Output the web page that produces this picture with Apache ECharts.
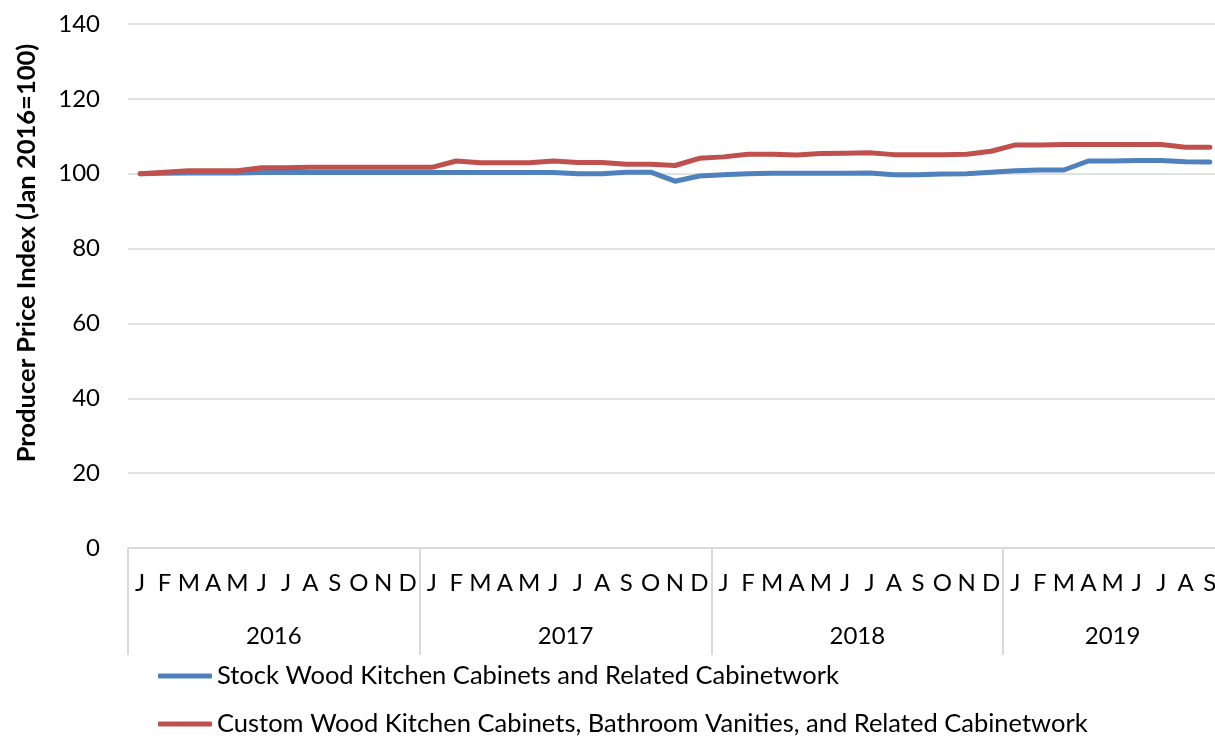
<!DOCTYPE html>
<html>
<head>
<meta charset="utf-8">
<script src="https://cdn.jsdelivr.net/npm/echarts@6/dist/echarts.min.js"></script>
<style>
  html, body { margin: 0; padding: 0; background: #fff; overflow: hidden; }
  /* the plot runs a few pixels past the right edge of the page */
  #chart { width: 1222px; height: 739px; }
</style>
</head>
<body>
<div id="chart"></div>
<script>
// Producer price indexes, monthly, Jan 2016 = 100
const years = ['2016', '2017', '2018', '2019'];
const monthLetters = ['J', 'F', 'M', 'A', 'M', 'J', 'J', 'A', 'S', 'O', 'N', 'D'];

const stockSeriesName = 'Stock Wood Kitchen Cabinets and Related Cabinetwork';
const customSeriesName = 'Custom Wood Kitchen Cabinets, Bathroom Vanities, and Related Cabinetwork';

const stockValues = [
  100.0, 100.1, 100.2, 100.2, 100.2, 100.3, 100.3, 100.3, 100.3, 100.3, 100.3, 100.3,
  100.3, 100.3, 100.3, 100.3, 100.3, 100.3, 100.0, 100.0, 100.4, 100.4, 98.0, 99.4,
  99.7, 100.0, 100.1, 100.1, 100.1, 100.1, 100.2, 99.7, 99.7, 99.9, 100.0, 100.4,
  100.8, 101.0, 101.0, 103.4, 103.4, 103.5, 103.5, 103.2, 103.1
];

const customValues = [
  100.0, 100.4, 100.8, 100.8, 100.8, 101.6, 101.6, 101.7, 101.7, 101.7, 101.7, 101.7,
  101.7, 103.4, 102.9, 102.9, 102.9, 103.4, 103.0, 103.0, 102.5, 102.5, 102.2, 104.1,
  104.5, 105.2, 105.2, 105.0, 105.4, 105.5, 105.6, 105.1, 105.1, 105.1, 105.2, 106.0,
  107.7, 107.7, 107.8, 107.8, 107.8, 107.8, 107.8, 107.1, 107.1
];

const yTicks = { min: 0, max: 140, interval: 20 };

// month categories and year groups derived from the series length
const monthCount = stockValues.length;
const monthCategories = Array.from({ length: monthCount }, (_, i) => monthLetters[i % 12]);
const yearStarts = years.map((_, k) => k * 12);
const yearCenters = years.map((_, k) => {
  const start = k * 12;
  const end = Math.min(start + 12, monthCount);
  return (start + end) / 2;
});

const FONT = 'Lato';
const AXIS_FONT_SIZE = 24;
const TEXT_FONT_SIZE = 25.5;
const GRID_COLOR = '#d9d9d9';

const chart = echarts.init(document.getElementById('chart'), null, { renderer: 'canvas' });

chart.setOption({
  animation: false,
  backgroundColor: '#ffffff',
  grid: { left: 128, right: 0, top: 24, bottom: 191, containLabel: false },
  legend: {
    orient: 'vertical',
    left: 158,
    top: 663,
    padding: 0,
    itemWidth: 54,
    itemHeight: 5,
    itemGap: 22,
    icon: 'roundRect',
    textStyle: { fontFamily: FONT, fontSize: TEXT_FONT_SIZE, color: '#000' },
    data: [stockSeriesName, customSeriesName]
  },
  xAxis: [
    {
      type: 'category',
      data: monthCategories,
      boundaryGap: true,
      axisLine: { show: true, lineStyle: { color: GRID_COLOR, width: 2 } },
      axisTick: { show: false },
      axisLabel: {
        interval: 0,
        margin: 23,
        hideOverlap: false,
        fontFamily: FONT,
        fontSize: AXIS_FONT_SIZE,
        color: '#000'
      },
      splitLine: { show: false }
    },
    {
      type: 'value',
      min: 0,
      max: monthCount,
      position: 'bottom',
      axisLine: { show: false },
      axisTick: {
        show: true,
        customValues: yearStarts,
        length: 107,
        lineStyle: { color: GRID_COLOR, width: 2 }
      },
      axisLabel: {
        customValues: yearCenters,
        margin: 76,
        fontFamily: FONT,
        fontSize: AXIS_FONT_SIZE,
        color: '#000',
        formatter: (v) => {
          const idx = yearCenters.findIndex((c) => Math.abs(c - v) < 1e-6);
          return idx >= 0 ? years[idx] : '';
        }
      },
      splitLine: { show: false }
    }
  ],
  yAxis: {
    type: 'value',
    min: yTicks.min,
    max: yTicks.max,
    interval: yTicks.interval,
    axisLine: { show: false },
    axisTick: { show: false },
    axisLabel: { margin: 28, fontFamily: FONT, fontSize: AXIS_FONT_SIZE, color: '#000' },
    splitLine: { show: true, lineStyle: { color: GRID_COLOR, width: 1.5 } }
  },
  graphic: [
    {
      type: 'text',
      x: 27,
      y: 253,
      rotation: Math.PI / 2,
      style: {
        text: 'Producer Price Index (Jan 2016=100)',
        fontFamily: FONT,
        fontSize: TEXT_FONT_SIZE,
        fontWeight: 'bold',
        fill: '#000',
        align: 'center',
        verticalAlign: 'middle'
      }
    }
  ],
  series: [
    {
      name: stockSeriesName,
      type: 'line',
      xAxisIndex: 0,
      data: stockValues,
      showSymbol: false,
      smooth: false,
      color: '#4f81bd',
      lineStyle: { width: 5, color: '#4f81bd', cap: 'round', join: 'round' }
    },
    {
      name: customSeriesName,
      type: 'line',
      xAxisIndex: 0,
      data: customValues,
      showSymbol: false,
      smooth: false,
      color: '#c0504d',
      lineStyle: { width: 5, color: '#c0504d', cap: 'round', join: 'round' }
    }
  ]
});
</script>
</body>
</html>
